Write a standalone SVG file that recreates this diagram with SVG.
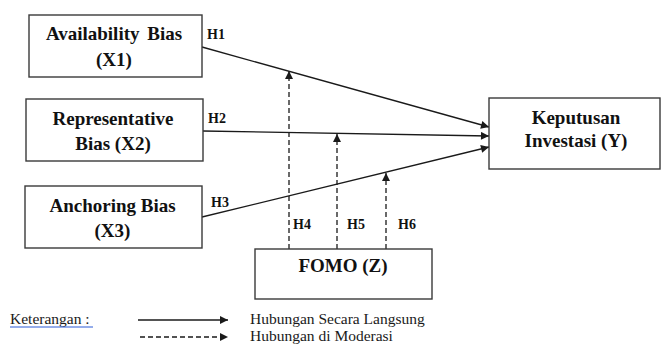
<svg xmlns="http://www.w3.org/2000/svg" width="661" height="345" viewBox="0 0 661 345">
<style>
.box{fill:#fff;stroke:#3a3a3a;stroke-width:1.4}
.t{font-family:"Liberation Serif","Times New Roman",serif;font-weight:bold;font-size:19px;fill:#111;text-anchor:middle}
.h{font-family:"Liberation Serif","Times New Roman",serif;font-weight:bold;font-size:14px;fill:#111}
.lg{font-family:"Liberation Serif","Times New Roman",serif;font-size:15.5px;fill:#1a1a1a}
.solid{stroke:#1a1a1a;stroke-width:1.3;fill:none}
.dash{stroke:#1a1a1a;stroke-width:1.3;fill:none;stroke-dasharray:5 3}
</style>
<defs>
<marker id="ah" viewBox="0 0 10 10" refX="10" refY="5" markerWidth="10" markerHeight="8" markerUnits="userSpaceOnUse" orient="auto">
<path d="M0,0 L10,5 L0,10 z" fill="#1a1a1a"/>
</marker>
</defs>
<rect width="661" height="345" fill="#fff"/>
<g id="connectors">
<line class="solid" x1="202" y1="47" x2="489" y2="127" marker-end="url(#ah)"/>
<line class="solid" x1="203" y1="131" x2="489" y2="136" marker-end="url(#ah)"/>
<line class="solid" x1="202" y1="217" x2="489" y2="147" marker-end="url(#ah)"/>
<line class="dash" x1="289" y1="249" x2="289" y2="71" marker-end="url(#ah)"/>
<line class="dash" x1="337" y1="249" x2="337" y2="134" marker-end="url(#ah)"/>
<line class="dash" x1="386" y1="249" x2="386" y2="173" marker-end="url(#ah)"/>
<text class="h" x="207" y="39">H1</text>
<text class="h" x="208" y="123">H2</text>
<text class="h" x="211" y="207">H3</text>
<text class="h" x="293" y="229">H4</text>
<text class="h" x="347" y="229">H5</text>
<text class="h" x="398" y="229">H6</text>
</g>
<g id="x1">
<rect class="box" x="29" y="15" width="173" height="62"/>
<text class="t" x="114" y="40" word-spacing="3">Availability Bias</text>
<text class="t" x="114" y="66">(X1)</text>
</g>
<g id="x2">
<rect class="box" x="26" y="99" width="177" height="62"/>
<text class="t" x="113" y="125">Representative</text>
<text class="t" x="113" y="150">Bias (X2)</text>
</g>
<g id="x3">
<rect class="box" x="25" y="186" width="177" height="62"/>
<text class="t" x="112.5" y="211.5">Anchoring Bias</text>
<text class="t" x="112.5" y="236.5">(X3)</text>
</g>
<g id="y">
<rect class="box" x="489" y="98" width="171" height="71"/>
<text class="t" x="576" y="124">Keputusan</text>
<text class="t" x="576" y="147">Investasi (Y)</text>
</g>
<g id="z">
<rect class="box" x="255" y="249" width="177" height="50"/>
<text class="t" x="343" y="272">FOMO (Z)</text>
</g>
<g id="legend">
<text class="lg" x="10" y="324">Keterangan :</text>
<line x1="10" y1="327" x2="93" y2="327" stroke="#2a5bd7" stroke-width="1"/>
<line class="solid" x1="138" y1="320" x2="228" y2="320" marker-end="url(#ah)"/>
<line class="dash" x1="140" y1="337" x2="228" y2="337" marker-end="url(#ah)"/>
<text class="lg" x="250" y="324">Hubungan Secara Langsung</text>
<text class="lg" x="250" y="341">Hubungan di Moderasi</text>
</g>
</svg>
